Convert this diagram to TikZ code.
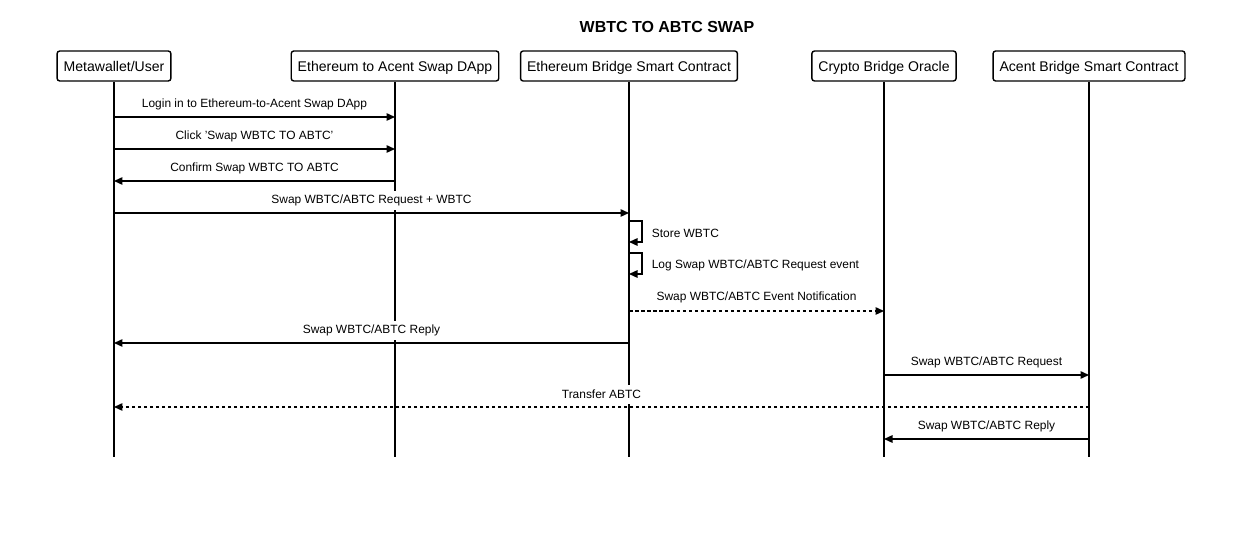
\documentclass[tikz,border=0pt]{standalone}
\usepackage{fontspec}
\setmainfont{Liberation Sans}
\usepackage{tikz}
\usetikzlibrary{arrows.meta}

\begin{document}
\begin{tikzpicture}[
        x=0.02cm, y=-0.02cm,
        actor/.style={draw, rectangle, rounded corners=1.5pt, line width=0.8pt, minimum height=0.6cm, inner xsep=0.13cm, text height=0.24cm, text depth=0cm, font=\fontsize{8}{9.6}\selectfont},
        lifeline/.style={line width=0.8pt},
        msg/.style={line width=0.8pt, -{Triangle[length=0.17cm, width=0.15cm]}},
        async/.style={msg, dash pattern=on 0.07cm off 0.05cm},
        lbl/.style={fill=white, inner xsep=1.5pt, inner ysep=0pt, minimum height=0.4cm, font=\fontsize{6.8}{8}\selectfont}
    ]
    \useasboundingbox (0,0) rectangle (1235,540);

    % Title
    \node[font=\bfseries\fontsize{9.1}{11}\selectfont] (title) at (667,27) {WBTC TO ABTC SWAP};

    % Participants
    \node[actor] (user) at (114,66) {Metawallet/User};
    \node[actor] (dapp) at (395,66) {Ethereum to Acent Swap DApp};
    \node[actor] (ethbridge) at (629,66) {Ethereum Bridge Smart Contract};
    \node[actor] (oracle) at (884,66) {Crypto Bridge Oracle};
    \node[actor] (acent) at (1089,66) {Acent Bridge Smart Contract};

    % Lifelines
    \coordinate (bottom) at (0,457);
    \draw[lifeline] (user.south) -- (user.south |- bottom);
    \draw[lifeline] (dapp.south) -- (dapp.south |- bottom);
    \draw[lifeline] (ethbridge.south) -- (ethbridge.south |- bottom);
    \draw[lifeline] (oracle.south) -- (oracle.south |- bottom);
    \draw[lifeline] (acent.south) -- (acent.south |- bottom);

    % Message rows
    \coordinate (m1) at (0,117);
    \coordinate (m2) at (0,149);
    \coordinate (m3) at (0,181);
    \coordinate (m4) at (0,213);
    \coordinate (s1) at (0,221);
    \coordinate (s2) at (0,242);
    \coordinate (s3) at (0,253);
    \coordinate (s4) at (0,274);
    \coordinate (m7) at (0,311);
    \coordinate (m8) at (0,343);
    \coordinate (m9) at (0,375);
    \coordinate (m10) at (0,407);
    \coordinate (m11) at (0,439);

    % Messages
    \draw[msg] (user |- m1) -- (dapp |- m1) node[lbl, midway, yshift=0.25cm] {Login in to Ethereum-to-Acent Swap DApp};
    \draw[msg] (user |- m2) -- (dapp |- m2) node[lbl, midway, yshift=0.25cm] {Click 'Swap WBTC TO ABTC'};
    \draw[msg] (dapp |- m3) -- (user |- m3) node[lbl, midway, yshift=0.25cm] {Confirm Swap WBTC TO ABTC};
    \draw[msg] (user |- m4) -- (ethbridge |- m4) node[lbl, midway, yshift=0.25cm] {Swap WBTC/ABTC Request + WBTC};

    % Self messages
    \draw[msg] (ethbridge |- s1) -- ++(13,0) -- ++(0,21) node[lbl, midway, anchor=west, xshift=0.13cm, yshift=-0.04cm] {Store WBTC} -- (ethbridge |- s2);
    \draw[msg] (ethbridge |- s3) -- ++(13,0) -- ++(0,21) node[lbl, midway, anchor=west, xshift=0.13cm, yshift=-0.04cm] {Log Swap WBTC/ABTC Request event} -- (ethbridge |- s4);

    \draw[async] (ethbridge |- m7) -- (oracle |- m7) node[lbl, midway, yshift=0.27cm] {Swap WBTC/ABTC Event Notification};
    \draw[msg] (ethbridge |- m8) -- (user |- m8) node[lbl, midway, yshift=0.25cm] {Swap WBTC/ABTC Reply};
    \draw[msg] (oracle |- m9) -- (acent |- m9) node[lbl, midway, yshift=0.25cm] {Swap WBTC/ABTC Request};
    \draw[async] (acent |- m10) -- (user |- m10) node[lbl, midway, yshift=0.25cm] {Transfer ABTC};
    \draw[msg] (acent |- m11) -- (oracle |- m11) node[lbl, midway, yshift=0.25cm] {Swap WBTC/ABTC Reply};

\end{tikzpicture}
\end{document}
